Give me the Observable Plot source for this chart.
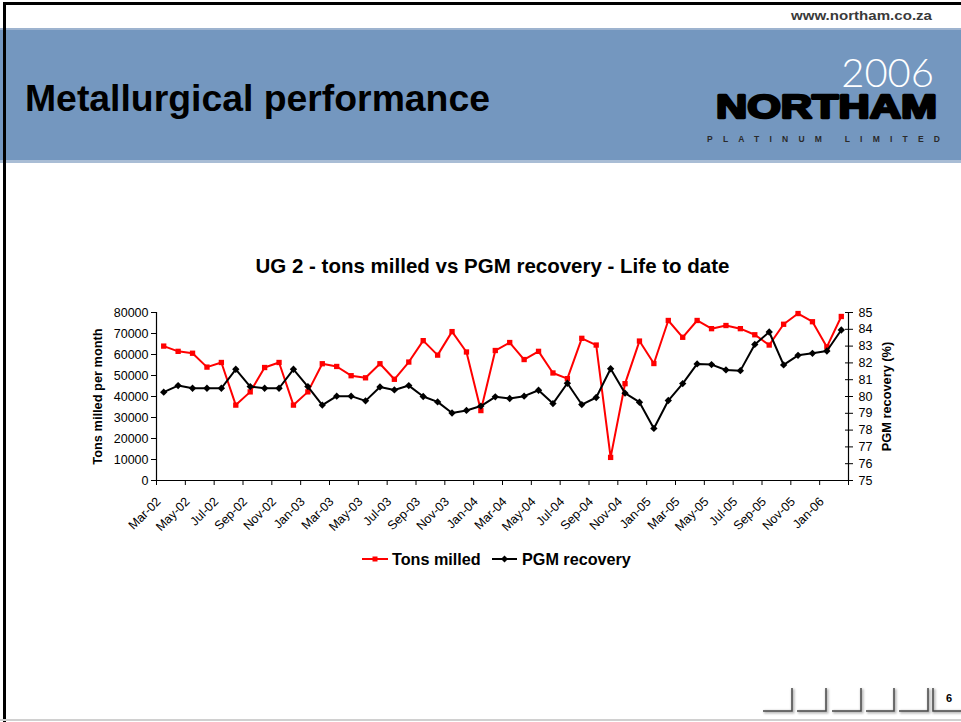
<!DOCTYPE html>
<html>
<head>
<meta charset="utf-8">
<script src="https://cdn.jsdelivr.net/npm/d3@7"></script>
<script src="https://cdn.jsdelivr.net/npm/@observablehq/plot@0.6"></script>
<style>
  html, body { margin: 0; padding: 0; background: #fff; overflow: hidden; }
  #page { position: relative; width: 961px; height: 722px; overflow: hidden; font-family: "Liberation Sans", Arial, sans-serif; }
  #deco, #chart, #legend { position: absolute; left: 0; top: 0; }
  #title { position: absolute; left: 0; width: 985px; top: 256px; text-align: center; font-weight: bold; font-size: 20.5px; line-height: 20.5px; color: #000; }
</style>
</head>
<body>
<div id="page">
  <svg id="deco" width="961" height="722" xmlns="http://www.w3.org/2000/svg">
    <defs>
      <filter id="blur" x="-20%" y="-20%" width="140%" height="140%"><feGaussianBlur stdDeviation="1"/></filter>
    </defs>
    <rect x="0" y="29" width="961" height="133" fill="#7497bf"/>
    <rect x="0" y="28" width="961" height="2" fill="#9db3cf"/>
    <rect x="0" y="160" width="961" height="3" fill="#a9bdd5"/>
    <rect x="3" y="2" width="958" height="3" fill="#000"/>
    <rect x="3" y="2" width="3" height="720" fill="#000"/>
    <text x="932" y="20" text-anchor="end" font-family="Liberation Sans, Arial, sans-serif" font-weight="bold" font-size="12.5" fill="#3a3a3a" textLength="141" lengthAdjust="spacingAndGlyphs">www.northam.co.za</text>
    <text x="25" y="111" font-family="Liberation Sans, Arial, sans-serif" font-weight="bold" font-size="37" fill="#000" textLength="465" lengthAdjust="spacingAndGlyphs">Metallurgical performance</text>
    <text x="934" y="87" text-anchor="end" font-family="Lato, Roboto, sans-serif" font-weight="300" font-size="40" fill="#fff">2006</text>
    <text x="716" y="118" font-family="Liberation Sans, Arial, sans-serif" font-weight="900" font-size="33" fill="#000" textLength="221" lengthAdjust="spacingAndGlyphs" stroke="#000" stroke-width="2.4" stroke-linejoin="round">NORTHAM</text>
    <text x="707" y="142" font-family="Liberation Sans, Arial, sans-serif" font-weight="bold" font-size="8.5" fill="#2a2a2a" textLength="233" lengthAdjust="spacing">PLATINUM LIMITED</text>
    <g fill="none" stroke="#b5b5b5" stroke-width="3" filter="url(#blur)" transform="translate(1,1)">
      <path d="M763,711H792V688"/><path d="M797,711H826V688"/><path d="M832,711H861V688"/><path d="M866,711H894V688"/><path d="M899,711H928V688"/><path d="M933,688V711H961"/>
    </g>
    <g fill="none" stroke="#4a4a4a" stroke-width="1.5">
      <path d="M763,711H792V688"/><path d="M797,711H826V688"/><path d="M832,711H861V688"/><path d="M866,711H894V688"/><path d="M899,711H928V688"/><path d="M933,688V711H961"/>
    </g>
    <text x="949" y="702" text-anchor="middle" font-family="Liberation Sans, Arial, sans-serif" font-weight="bold" font-size="11" fill="#000">6</text>
    <rect x="0" y="719" width="961" height="2" fill="#d0d0d0"/>
  </svg>
  <div id="title">UG 2 - tons milled vs PGM recovery - Life to date</div>
  <div id="chart"></div>
  <svg id="legend" width="961" height="722" xmlns="http://www.w3.org/2000/svg" style="pointer-events:none">
    <g font-family="Liberation Sans, Arial, sans-serif" font-weight="bold" font-size="16.2">
      <line x1="362" x2="388" y1="559" y2="559" stroke="#ff0000" stroke-width="2"/>
      <rect x="372.5" y="556.5" width="5" height="5" fill="#ff0000"/>
      <text x="392" y="565" fill="#000">Tons milled</text>
      <line x1="492" x2="517" y1="559" y2="559" stroke="#000" stroke-width="2"/>
      <path d="M504.5,555.5L508,559L504.5,562.5L501,559Z" fill="#000"/>
      <text x="522" y="565" fill="#000">PGM recovery</text>
    </g>
  </svg>
</div>
<script>
// Categories (monthly, life to date)
const months = ["Mar-02","Apr-02","May-02","Jun-02","Jul-02","Aug-02","Sep-02","Oct-02","Nov-02","Dec-02",
  "Jan-03","Feb-03","Mar-03","Apr-03","May-03","Jun-03","Jul-03","Aug-03","Sep-03","Oct-03","Nov-03","Dec-03",
  "Jan-04","Feb-04","Mar-04","Apr-04","May-04","Jun-04","Jul-04","Aug-04","Sep-04","Oct-04","Nov-04","Dec-04",
  "Jan-05","Feb-05","Mar-05","Apr-05","May-05","Jun-05","Jul-05","Aug-05","Sep-05","Oct-05","Nov-05","Dec-05",
  "Jan-06","Feb-06"];

// Tons milled per month (left axis)
const tonsMilled = [64000, 61500, 60600, 54000, 56200, 35900, 42200, 53800, 56200, 35900,
  42200, 55600, 54300, 49900, 48900, 55600, 48200, 56400, 66600, 59700, 70900, 61200,
  33300, 61900, 65700, 57600, 61500, 51200, 48500, 67700, 64500, 11000, 46100, 66400,
  55700, 76200, 68200, 76200, 72300, 73800, 72300, 69400, 64500, 74400, 79500, 75600,
  63600, 78100];

// PGM recovery % (right axis)
const pgmRecovery = [80.26, 80.65, 80.49, 80.49, 80.49, 81.62, 80.59, 80.49, 80.49, 81.62,
  80.59, 79.49, 80.02, 80.02, 79.74, 80.57, 80.39, 80.65, 80.00, 79.68, 79.02, 79.17,
  79.43, 79.98, 79.88, 80.02, 80.37, 79.58, 80.79, 79.52, 79.94, 81.65, 80.20, 79.66,
  78.10, 79.76, 80.77, 81.94, 81.90, 81.58, 81.54, 83.10, 83.84, 81.88, 82.45, 82.57,
  82.71, 83.96];

// Tick values
const leftTicks = [0, 10000, 20000, 30000, 40000, 50000, 60000, 70000, 80000];
const rightTicks = [75, 76, 77, 78, 79, 80, 81, 82, 83, 84, 85];

// Right axis (75..85) mapped onto left axis domain (0..80000)
const rightMin = 75, rightMax = 85, leftMax = 80000;
const toLeft = v => (v - rightMin) / (rightMax - rightMin) * leftMax;
const fromLeft = v => v / leftMax * (rightMax - rightMin) + rightMin;

const data = months.map((m, i) => ({i, month: m, tons: tonsMilled[i], rec: pgmRecovery[i]}));
const n = months.length;
const boundaryTicks = d3.range(-0.5, n, 2);
const labelTicks = d3.range(0, n, 2);

const font = "Liberation Sans, Arial, sans-serif";

const chart = Plot.plot({
  width: 961,
  height: 722,
  marginTop: 312,
  marginBottom: 242,
  marginLeft: 156,
  marginRight: 113,
  style: {fontFamily: font, fontSize: "12.5px", color: "#000", background: "transparent", overflow: "visible"},
  x: {type: "linear", domain: [-0.5, n - 0.5]},
  y: {domain: [0, leftMax]},
  marks: [
    Plot.axisY({anchor: "left", ticks: leftTicks, tickSize: 5, tickPadding: 3, tickFormat: d => String(d), label: null}),
    Plot.axisY({anchor: "right", ticks: rightTicks.map(toLeft), tickSize: 8, dx: -4, tickPadding: 6, tickFormat: d => String(Math.round(fromLeft(d))), label: null}),
    Plot.axisX({anchor: "bottom", ticks: boundaryTicks, tickSize: 5, tickFormat: () => "", label: null}),
    Plot.axisX({anchor: "bottom", ticks: labelTicks, tickSize: 0, tickPadding: 19, dx: -5, tickRotate: -45, tickFormat: i => months[i], label: null}),
    Plot.ruleX([-0.5, n - 0.5], {stroke: "#000", strokeWidth: 1.2}),
    Plot.ruleY([0], {stroke: "#000", strokeWidth: 1.2}),
    Plot.line(data, {x: "i", y: "tons", stroke: "#ff0000", strokeWidth: 2}),
    Plot.dot(data, {x: "i", y: "tons", symbol: "square", r: 3, fill: "#ff0000", stroke: "none"}),
    Plot.line(data, {x: "i", y: d => toLeft(d.rec), stroke: "#000", strokeWidth: 2}),
    Plot.dot(data, {x: "i", y: d => toLeft(d.rec), symbol: "diamond2", r: 3.3, fill: "#000", stroke: "none"}),
    Plot.text(["Tons milled per month"], {frameAnchor: "left", textAnchor: "middle", rotate: -90, dx: -59, fontWeight: "bold", fontSize: 12.8, fill: "#000"}),
    Plot.text(["PGM recovery (%)"], {frameAnchor: "right", textAnchor: "middle", rotate: -90, dx: 38, fontWeight: "bold", fontSize: 12.8, fill: "#000"})
  ]
});
document.getElementById("chart").appendChild(chart);
</script>
</body>
</html>
